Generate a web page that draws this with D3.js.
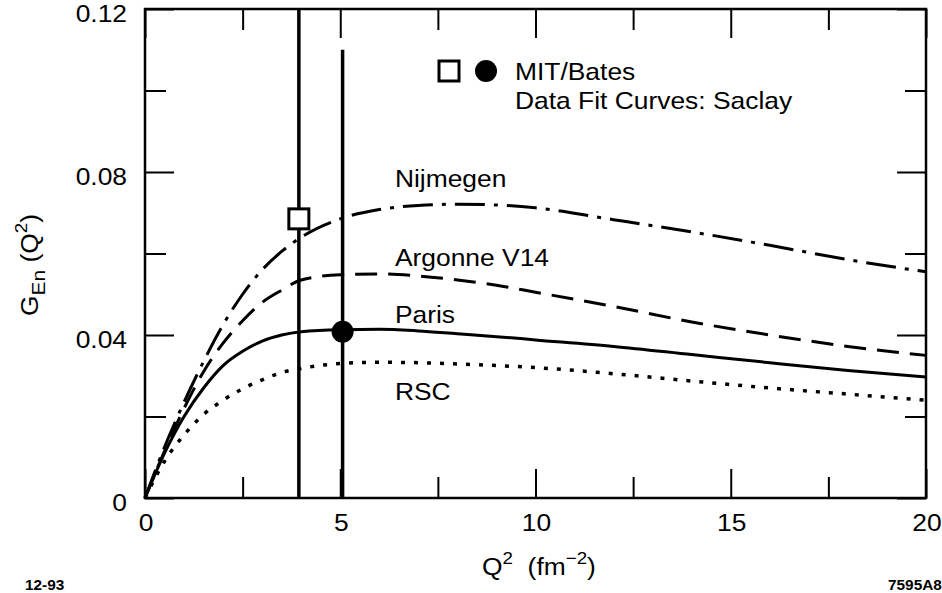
<!DOCTYPE html>
<html>
<head>
<meta charset="utf-8">
<script src="https://cdn.jsdelivr.net/npm/d3@7"></script>
<style>
  body { margin: 0; background: #fff; }
  svg { display: block; font-family: "Liberation Sans", Arial, Helvetica, sans-serif; }
</style>
</head>
<body>
<svg id="chart"></svg>
<script>
// Q^2 grid (fm^-2) shared by the four fit curves
var q2 = [0, 0.5, 1, 1.5, 2, 2.5, 3, 3.5, 4, 5, 6, 7, 8, 9, 10, 12, 14, 16, 18, 20];

// G_En(Q^2) for each potential
var nijmegen = [0, 0.0125, 0.0235, 0.0335, 0.0425, 0.0500, 0.0560, 0.0605, 0.0640, 0.0685, 0.0708, 0.0718, 0.0721, 0.0719, 0.0712, 0.0683, 0.0653, 0.0620, 0.0585, 0.0555];
var argonne  = [0, 0.0115, 0.0220, 0.0310, 0.0380, 0.0435, 0.0480, 0.0510, 0.0535, 0.0548, 0.0550, 0.0545, 0.0535, 0.0522, 0.0505, 0.0470, 0.0432, 0.0400, 0.0372, 0.0350];
var paris    = [0, 0.0110, 0.0200, 0.0270, 0.0325, 0.0360, 0.0385, 0.0400, 0.0408, 0.0413, 0.0414, 0.0410, 0.0403, 0.0396, 0.0388, 0.0372, 0.0352, 0.0332, 0.0313, 0.0297];
var rsc      = [0, 0.0090, 0.0155, 0.0205, 0.0240, 0.0268, 0.0290, 0.0308, 0.0318, 0.0330, 0.0333, 0.0332, 0.0329, 0.0325, 0.0320, 0.0305, 0.0287, 0.0270, 0.0255, 0.0240];

var curveNames = ["Nijmegen", "Argonne V14", "Paris", "RSC"];

// MIT/Bates data points with their error bars
var pointQ2    = [3.94, 5.06];
var pointG     = [0.0685, 0.0408];
var pointLow   = [-0.03, -0.03];
var pointHigh  = [0.16, 0.110];
var pointShape = ["square", "circle"];

// axis ticks
var xMajor = [0, 5, 10, 15, 20];
var xMinor = [2.5, 7.5, 12.5, 17.5];
var yMajor = [0, 0.04, 0.08, 0.12];
var yMinor = [0.02, 0.06, 0.10];

var width = 942, height = 593;
var margin = {left: 145, right: 16, top: 9, bottom: 95};
var iw = width - margin.left - margin.right;
var ih = height - margin.top - margin.bottom;
var fs = 24, sx = 1.1;   // font size and horizontal stretch of the lettering

var svg = d3.select("#chart").attr("width", width).attr("height", height);
var g = svg.append("g").attr("transform", "translate(" + margin.left + "," + margin.top + ")");

var x = d3.scaleLinear().domain([0, 20]).range([0, iw]);
var y = d3.scaleLinear().domain([0, 0.12]).range([ih, 0]);

g.append("clipPath").attr("id", "plotclip")
  .append("rect").attr("width", iw).attr("height", ih);

// ticks on all four sides, pointing inward
function tickAxis(axisFn, scale, vals, size) {
  return axisFn(scale).tickValues(vals).tickSize(-size).tickFormat("");
}
var axes = [
  [tickAxis(d3.axisBottom, x, xMajor, 29), "translate(0," + ih + ")"],
  [tickAxis(d3.axisBottom, x, xMinor, 21), "translate(0," + ih + ")"],
  [tickAxis(d3.axisTop, x, xMajor, 29), null],
  [tickAxis(d3.axisTop, x, xMinor, 21), null],
  [tickAxis(d3.axisLeft, y, yMajor, 29), null],
  [tickAxis(d3.axisLeft, y, yMinor, 21), null],
  [tickAxis(d3.axisRight, y, yMajor, 29), "translate(" + iw + ",0)"],
  [tickAxis(d3.axisRight, y, yMinor, 21), "translate(" + iw + ",0)"]
];
axes.forEach(function(a) {
  var ag = g.append("g").attr("transform", a[1]).call(a[0]);
  ag.select(".domain").remove();
  ag.selectAll("line").attr("stroke", "#000").attr("stroke-width", 2);
});

// tick labels
function label(parent, txt, px, py, anchor, size) {
  return parent.append("text")
    .attr("transform", "translate(" + px + "," + py + ") scale(" + sx + ",1)")
    .attr("text-anchor", anchor || "start")
    .attr("font-size", size || fs)
    .attr("fill", "#000")
    .text(txt);
}
xMajor.forEach(function(v) {
  label(g, String(v), x(v) + 1, ih + 33, "middle");
});
yMajor.forEach(function(v) {
  label(g, v === 0 ? "0" : d3.format(".2f")(v), -18, y(v) + 13, "end");
});

// frame
g.append("rect")
  .attr("width", iw).attr("height", ih)
  .attr("fill", "none").attr("stroke", "#000").attr("stroke-width", 2.5);

// fit curves
var series = [nijmegen, argonne, paris, rsc];
var dashes = ["30,9,4,9", "22,11", null, "4,9"];
var widths = [3, 3, 3, 3.5];

var line = d3.line()
  .x(function(d) { return x(d[0]); })
  .y(function(d) { return y(d[1]); })
  .curve(d3.curveMonotoneX);

series.forEach(function(vals, i) {
  g.append("path")
    .datum(q2.map(function(q, j) { return [q, vals[j]]; }))
    .attr("d", line)
    .attr("fill", "none")
    .attr("stroke", "#000")
    .attr("stroke-width", widths[i])
    .attr("stroke-dasharray", dashes[i]);
});

// curve names
var nameX = 6.4;
var nameY = [0.0762, 0.0570, 0.0430, 0.0240];
curveNames.forEach(function(n, i) {
  label(g, n, x(nameX), y(nameY[i]), "start");
});

// error bars (clipped to the frame) and markers
var pts = pointQ2.map(function(q, i) {
  return {q: q, v: pointG[i], lo: pointLow[i], hi: pointHigh[i], shape: pointShape[i]};
});
g.append("g").attr("clip-path", "url(#plotclip)")
  .selectAll("line").data(pts).join("line")
  .attr("x1", function(d) { return x(d.q); })
  .attr("x2", function(d) { return x(d.q); })
  .attr("y1", function(d) { return y(d.lo); })
  .attr("y2", function(d) { return y(d.hi); })
  .attr("stroke", "#000").attr("stroke-width", 3.5);

function marker(parent, shape, cx, cy) {
  if (shape === "square") {
    parent.append("rect")
      .attr("x", cx - 10).attr("y", cy - 10).attr("width", 20).attr("height", 20)
      .attr("fill", "#fff").attr("stroke", "#000").attr("stroke-width", 3);
  } else {
    parent.append("circle")
      .attr("cx", cx).attr("cy", cy).attr("r", 11).attr("fill", "#000");
  }
}
pts.forEach(function(d) { marker(g, d.shape, x(d.q), y(d.v)); });

// legend
var legX = 304, legY = 62;
marker(g, "square", legX, legY);
marker(g, "circle", legX + 37, legY);
label(g, "MIT/Bates", legX + 66, legY + 9, "start");
label(g, "Data Fit Curves: Saclay", legX + 66, legY + 38, "start");

// axis titles
var xt = svg.append("text")
  .attr("transform", "translate(482,575) scale(" + sx + ",1)")
  .attr("font-size", fs).attr("fill", "#000");
xt.append("tspan").text("Q");
xt.append("tspan").attr("font-size", 17).attr("dy", -11).text("2");
xt.append("tspan").attr("dy", 11).attr("xml:space", "preserve").text("\u00a0\u00a0(fm");
xt.append("tspan").attr("font-size", 17).attr("dy", -11).text("\u22122");
xt.append("tspan").attr("dy", 11).text(")");

var yt = svg.append("text")
  .attr("transform", "translate(38,316) rotate(-90) scale(" + sx + ",1)")
  .attr("font-size", fs).attr("fill", "#000");
yt.append("tspan").text("G");
yt.append("tspan").attr("font-size", 19).attr("dy", 7).text("En");
yt.append("tspan").attr("dy", -7).text("\u00a0(Q");
yt.append("tspan").attr("font-size", 17).attr("dy", -11).text("2");
yt.append("tspan").attr("dy", 11).text(")");

// figure stamps
label(svg, "12-93", 25, 590, "start", 14).attr("font-weight", "bold");
label(svg, "7595A8", 888, 590, "start", 14).attr("font-weight", "bold");
</script>
</body>
</html>
